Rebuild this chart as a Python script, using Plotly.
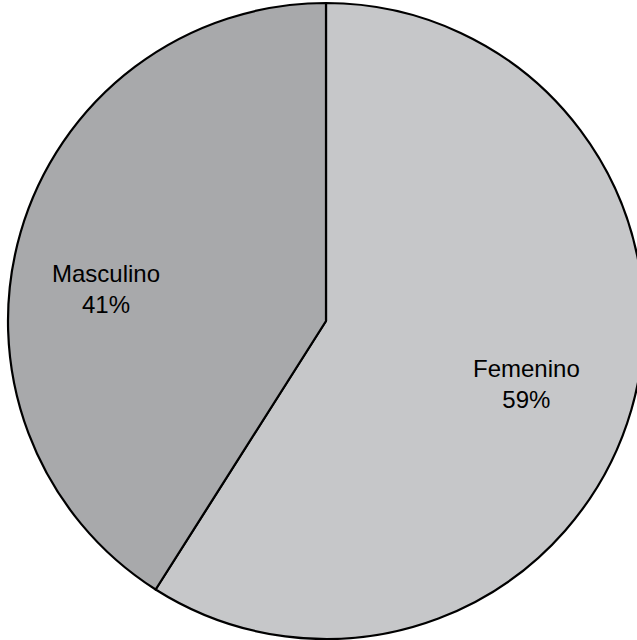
import math
import plotly.graph_objects as go

labels = ["Femenino", "Masculino"]
values = [59, 41]
colors = ["#c6c7c9", "#a8a9ab"]

# label placement: radial fraction and angle tweak (degrees) per slice
label_frac = [0.66, 0.70]
label_angle_adj = [1.3, -7.9]

W, H = 660, 640
cx, cy, r = 326, 321, 318  # pixel centre / radius of the pie

fig = go.Figure(go.Pie(
    labels=labels,
    values=values,
    sort=False,
    direction="clockwise",
    rotation=0,
    marker=dict(colors=colors, line=dict(color="#000000", width=2.2)),
    textinfo="none",
    textposition="none",
    showlegend=False,
    hoverinfo="label+percent",
    domain=dict(x=[(cx - r) / W, (cx + r) / W], y=[(H - cy - r) / H, (H - cy + r) / H]),
))

total = sum(values)
cum = 0.0
annotations = []
for i, (lab, v) in enumerate(zip(labels, values)):
    mid = (cum + v / 2) / total * 360.0  # clockwise from top
    cum += v
    if mid > 180:
        mid -= 360
    th = math.radians(mid + label_angle_adj[i])
    px = cx + label_frac[i] * r * math.sin(th)
    py = cy - label_frac[i] * r * math.cos(th)
    annotations.append(dict(
        x=px / W, y=(H - py) / H, xref="paper", yref="paper",
        text=f"{lab}<br>{round(v / total * 100)}%",
        showarrow=False, xanchor="center", yanchor="middle",
        font=dict(family="Liberation Sans, Arial, sans-serif", size=24, color="#000000"),
    ))

fig.update_layout(
    width=W, height=H,
    margin=dict(l=0, r=0, t=0, b=0),
    paper_bgcolor="#ffffff",
    plot_bgcolor="#ffffff",
    annotations=annotations,
)

fig.write_html(
    "out.html",
    config={"displayModeBar": False},
    post_script="document.body.style.margin='0';document.body.style.overflow='hidden';"
                "document.documentElement.style.overflow='hidden';",
)
